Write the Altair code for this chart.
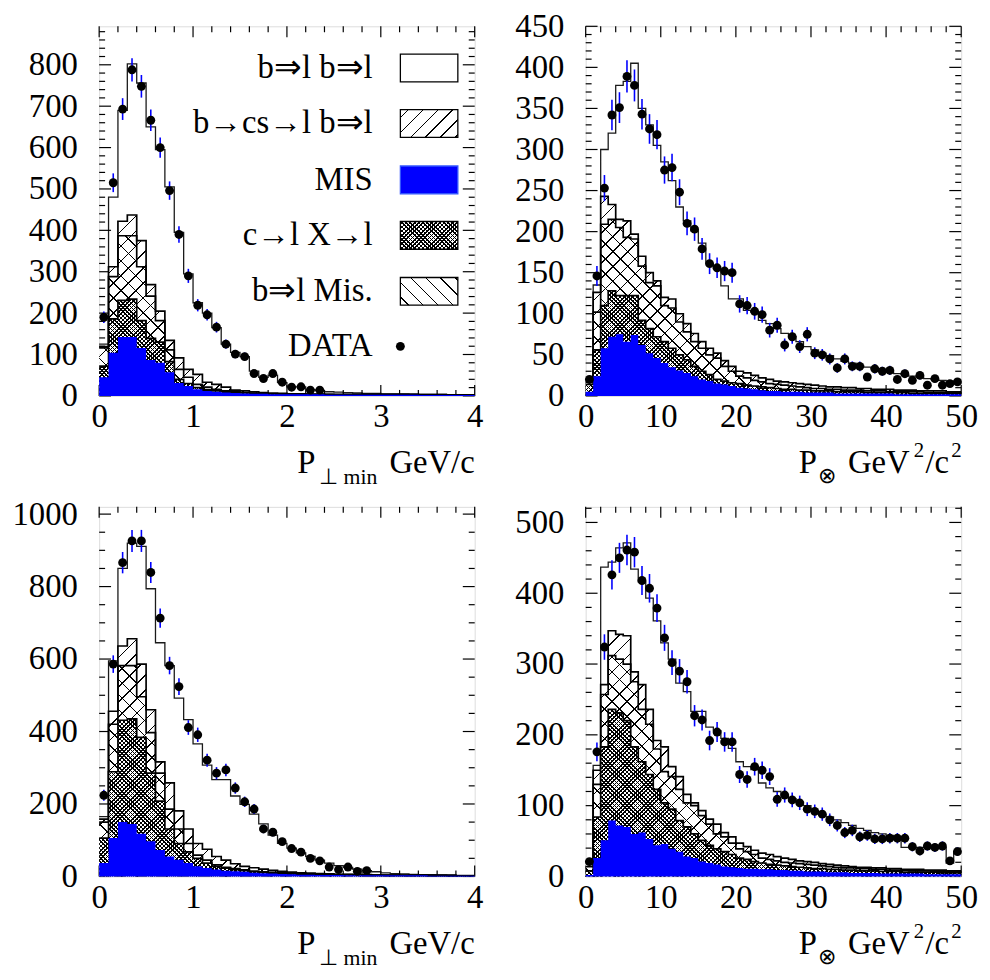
import numpy as np
import pandas as pd
import altair as alt

FONT = "Liberation Serif"
BLUE = "#0000ff"
CLEAR = "rgba(0,0,0,0)"

LEGEND_NAMES = ["b\u21d2l b\u21d2l", "b\u2192cs\u2192l b\u21d2l", "MIS",
                "c\u2192l X\u2192l", "b\u21d2l Mis.", "DATA"]

# ---------------- P_perp_min panels: 40 bins, 0..4 GeV/c ----------------
PT_XMAX = 4
# top edges of every stacked layer
TL_TOTAL = [125, 480, 690, 802, 756, 650, 595, 505, 395, 295, 225, 200, 165, 125, 105, 95, 60, 45, 50, 32,
            22, 22, 15, 13, 10, 9, 8, 7, 6, 6, 5, 5, 5, 4, 4, 4, 4, 3, 3, 3]
TL_BCS = [119, 312, 422, 437, 375, 269, 205, 134, 92, 64, 52, 33, 28, 21, 14, 12, 10, 8, 7, 6,
          5, 5, 4, 4, 4, 3, 3, 3, 3, 3, 3, 3, 3, 3, 2, 2, 2, 2, 2, 2]
TL_BMIS = [116, 288, 387, 387, 312, 241, 182, 111, 64, 45, 28, 21, 16, 12, 10, 8, 7, 6, 5, 5,
           4, 4, 4, 4, 3, 3, 3, 3, 3, 3, 3, 3, 3, 3, 2, 2, 2, 2, 2, 2]
TL_CX = [72, 186, 231, 234, 182, 139, 130, 83, 40, 30, 20, 15, 12, 10, 8, 7, 6, 5, 5, 4,
         4, 4, 4, 4, 3, 3, 3, 3, 3, 3, 3, 3, 3, 3, 2, 2, 2, 2, 2, 2]
TL_MIS = [45, 104, 142, 142, 116, 87, 80, 57, 31, 24, 16, 12, 10, 8, 7, 6, 5, 5, 4, 4,
          4, 4, 4, 4, 3, 3, 3, 3, 3, 3, 3, 3, 3, 3, 2, 2, 2, 2, 2, 2]
TL_DATA = [190, 515, 693, 788, 748, 666, 600, 496, 390, 290, 219, 196, 166, 125, 101, 95, 54, 42, 54, 33,
           21, 22, 14, 14]

BL_TOTAL = [165, 595, 850, 920, 911, 794, 645, 582, 492, 433, 366, 307, 267, 267, 222, 199, 172, 145, 114, 91,
            78, 65, 55, 45, 37, 30, 25, 20, 16, 13, 10, 8, 7, 6, 5, 5, 4, 4, 3, 3]
BL_BCS = [158, 456, 636, 656, 586, 460, 316, 258, 181, 131, 91, 75, 55, 45, 35, 28, 24, 20, 17, 14,
          12, 10, 9, 8, 7, 6, 6, 5, 5, 4, 4, 4, 3, 3, 3, 3, 3, 3, 2, 2]
BL_BMIS = [150, 420, 582, 582, 496, 397, 285, 186, 131, 91, 59, 45, 32, 25, 22, 18, 15, 13, 11, 10,
           9, 8, 7, 6, 6, 5, 5, 4, 4, 4, 3, 3, 3, 3, 3, 3, 3, 2, 2, 2]
BL_CX = [106, 289, 431, 435, 384, 285, 208, 131, 91, 68, 50, 37, 28, 23, 19, 16, 13, 11, 9, 8,
         7, 6, 6, 5, 5, 4, 4, 4, 3, 3, 3, 3, 3, 3, 3, 2, 2, 2, 2, 2]
BL_MIS = [37, 106, 150, 145, 118, 97, 73, 55, 46, 37, 28, 23, 19, 16, 14, 13, 10, 9, 8, 7,
          6, 5, 5, 4, 4, 4, 3, 3, 3, 3, 3, 3, 3, 3, 3, 2, 2, 2, 2, 2]
BL_DATA = [224, 586, 866, 926, 926, 839, 713, 582, 524, 411, 391, 321, 285, 294, 244, 206, 186, 131, 122, 96,
           77, 67, 50, 43, 26, 19, 26, 14, 16]

# ---------------- P_otimes panels: 50 bins, 0..50 GeV^2/c^2 ----------------
PO_XMAX = 50
TR_TOTAL = [20, 135, 300, 320, 378, 383, 405, 350, 330, 305, 285, 262, 230, 213, 201, 186, 161, 155, 134, 118,
            118, 104, 102, 92, 88, 82, 76, 72, 66, 60, 56, 52, 49, 45, 42, 40, 37, 35, 33, 31,
            29, 27, 26, 24, 23, 21, 20, 19, 18, 17]
TR_BCS = [20, 126, 243, 233, 215, 213, 197, 170, 150, 140, 120, 118, 100, 88, 76, 66, 58, 52, 43, 36,
          30, 28, 25, 22, 20, 18, 17, 16, 15, 14, 13, 12, 11, 11, 10, 10, 9, 9, 8, 8,
          8, 7, 7, 7, 6, 6, 6, 6, 5, 5]
TR_BMIS = [17, 102, 209, 215, 205, 193, 191, 158, 138, 134, 110, 107, 90, 78, 66, 58, 50, 46, 36, 30,
           24, 22, 19, 17, 15, 14, 13, 12, 11, 10, 9, 9, 8, 8, 7, 7, 7, 6, 6, 6,
           5, 5, 5, 5, 5, 4, 4, 4, 4, 4]
TR_CX = [14, 56, 110, 128, 122, 122, 122, 92, 82, 72, 66, 58, 50, 44, 36, 30, 26, 20, 18, 16,
         15, 13, 12, 11, 10, 9, 8, 8, 7, 7, 6, 6, 6, 5, 5, 5, 5, 4, 4, 4,
         4, 4, 4, 3, 3, 3, 3, 3, 3, 3]
TR_MIS = [5, 24, 58, 72, 75, 66, 74, 62, 52, 46, 40, 35, 31, 28, 24, 20, 18, 15, 14, 12,
          10, 9, 8, 7, 6, 6, 5, 5, 5, 4, 4, 4, 4, 3, 3, 3, 3, 3, 3, 3,
          3, 2, 2, 2, 2, 2, 2, 2, 2, 2]
TR_DATA = [20, 146, 253, 342, 351, 389, 378, 343, 325, 318, 275, 278, 248, 210, 203, 179, 161, 156, 152, 150,
           112, 110, 103, 99, 80, 86, 62, 72, 60, 75, 52, 50, 45, 34, 45, 36, 36, 23, 33, 30,
           31, 20, 27, 19, 25, 13, 21, 13, 15, 17]

BR_TOTAL = [21, 157, 437, 444, 464, 471, 434, 416, 393, 361, 330, 307, 273, 261, 233, 233, 211, 206, 195, 181,
            162, 155, 151, 132, 125, 120, 115, 110, 105, 100, 93, 88, 84, 80, 76, 72, 68, 65, 62, 60,
            58, 56, 41, 41, 41, 41, 41, 41, 19, 35]
BR_BCS = [18, 150, 271, 347, 342, 340, 289, 271, 236, 192, 183, 155, 141, 116, 104, 93, 81, 74, 62, 56,
          47, 42, 37, 33, 31, 28, 26, 24, 22, 21, 20, 18, 17, 16, 15, 14, 13, 13, 12, 12,
          11, 11, 10, 10, 10, 9, 9, 9, 8, 8]
BR_BMIS = [14, 130, 257, 312, 307, 300, 275, 236, 215, 180, 148, 141, 123, 104, 100, 86, 74, 60, 56, 47,
           39, 35, 31, 26, 24, 22, 20, 19, 18, 17, 16, 15, 14, 13, 12, 12, 11, 11, 10, 10,
           9, 9, 9, 8, 8, 8, 7, 7, 7, 7]
BR_CX = [8, 84, 183, 236, 231, 220, 183, 162, 144, 123, 104, 95, 79, 70, 60, 51, 44, 39, 35, 31,
         26, 24, 21, 19, 17, 16, 15, 14, 13, 12, 11, 11, 10, 10, 9, 9, 8, 8, 8, 7,
         7, 7, 6, 6, 6, 6, 6, 5, 5, 5]
BR_MIS = [2, 26, 51, 79, 72, 70, 60, 62, 53, 44, 46, 39, 35, 28, 26, 21, 19, 17, 14, 13,
          12, 11, 11, 10, 10, 9, 9, 8, 8, 7, 7, 7, 6, 6, 6, 5, 5, 5, 5, 4,
          4, 4, 4, 4, 4, 3, 3, 3, 3, 3]
BR_DATA = [21, 176, 324, 426, 450, 461, 458, 418, 407, 379, 337, 302, 290, 275, 227, 221, 192, 204, 190, 190,
           144, 137, 155, 150, 141, 109, 115, 108, 104, 95, 92, 88, 80, 72, 62, 65, 56, 58, 53, 53,
           54, 54, 54, 42, 36, 43, 41, 43, 22, 35]

PW, PH = 379, 373
ONE = pd.DataFrame({"k": [0]})


def hatch(wpx, hpx, kind, period, lw, bg, fg="black"):
    """Linear-gradient stripes that imitate a ROOT hatch style."""
    wpx = max(float(wpx), 1.0)
    hpx = max(float(hpx), 1.0)
    r = hpx / wpx
    a = (1 + r) / (1 + r * r)
    L = (wpx + hpx) / np.sqrt(2)
    if kind == "/":
        x1, y1, x2, y2 = 0.0, 0.0, a, a * r
    else:
        x1, y1, x2, y2 = 0.0, 1.0, a, 1.0 - a * r
    stops = [alt.GradientStop(color=bg, offset=0.0)]
    k = 0
    while True:
        t0 = (k * period + 0.5 * period) / L
        t1 = t0 + lw / L
        if t1 >= 1.0:
            break
        t0r, t1r = round(t0, 6), round(t1, 6)
        stops += [alt.GradientStop(color=bg, offset=t0r), alt.GradientStop(color=fg, offset=t0r),
                  alt.GradientStop(color=fg, offset=t1r), alt.GradientStop(color=bg, offset=t1r)]
        k += 1
    stops.append(alt.GradientStop(color=bg, offset=1.0))
    return alt.LinearGradient(gradient="linear", stops=stops,
                              x1=round(x1, 6), y1=round(y1, 6), x2=round(x2, 6), y2=round(y2, 6))


def step_df(values, xmax):
    n = len(values)
    bw = xmax / n
    xs = [i * bw for i in range(n + 1)]
    vs = list(values) + [values[-1]]
    return pd.DataFrame({"x": xs, "v": vs})


def make_panel(xmax, ymax, total, bcs, bmis, cx, mis, data,
               x_major, x_minor, y_major, y_minor, kind, legend=False):
    xs = alt.Scale(domain=[0, xmax], nice=False, zero=False)
    ys = alt.Scale(domain=[0, ymax], nice=False, zero=False)
    lab = dict(labelFont=FONT, labelFontSize=33, labelColor="black", ticks=False, tickSize=0,
               domain=False, grid=False, title=None, labelFlush=False, labelOverlap=False, format="d")
    xaxis = alt.Axis(values=x_major, labelPadding=5, **lab)
    yaxis = alt.Axis(values=y_major, labelPadding=22, **lab)

    # the same axis definition on every layer so that the layered axes merge
    def X(f):
        return alt.X(f, type="quantitative", scale=xs, axis=xaxis)

    def Y(f):
        return alt.Y(f, type="quantitative", scale=ys, axis=yaxis)

    layers = []
    # total histogram outline
    layers.append(alt.Chart(step_df(total, xmax)).mark_line(
        interpolate="step-after", color="#1a1a1a", strokeWidth=1.3).encode(x=X("x"), y=Y("v")))

    # inward ticks on all four sides
    def yticks(vals, length):
        df = pd.DataFrame({"t": vals})
        left = alt.Chart(df).mark_rule(color="black", strokeWidth=1.2).encode(
            y=Y("t"), x=alt.value(0), x2=alt.value(length))
        right = alt.Chart(df).mark_rule(color="black", strokeWidth=1.2).encode(
            y=Y("t"), x=alt.value(PW), x2=alt.value(PW - length))
        return [left, right]

    def xticks(vals, length):
        df = pd.DataFrame({"t": vals})
        bot = alt.Chart(df).mark_rule(color="black", strokeWidth=1.2).encode(
            x=X("t"), y=alt.value(PH), y2=alt.value(PH - length))
        top = alt.Chart(df).mark_rule(color="black", strokeWidth=1.2).encode(
            x=X("t"), y=alt.value(0), y2=alt.value(length))
        return [bot, top]

    layers += yticks(y_major, 12) + yticks(y_minor, 6) + xticks(x_major, 11) + xticks(x_minor, 6)

    def hpx(vals):
        return max(vals) / ymax * PH

    def area(vals, fill):
        return alt.Chart(step_df(vals, xmax)).mark_area(
            interpolate="step-after", fill=fill, opacity=1, fillOpacity=1).encode(x=X("x"), y=Y("v"))

    def outline(vals, width=1.7, color="black"):
        return alt.Chart(step_df(vals, xmax)).mark_line(
            interpolate="step-after", color=color, strokeWidth=width).encode(x=X("x"), y=Y("v"))

    # b->cs->l b=>l : "/" hatch
    layers.append(area(bcs, hatch(PW, hpx(bcs), "/", 10.6, 1.1, "white")))
    layers.append(outline(bcs))
    # b=>l Mis. : "\" hatch (transparent -> crosses over the "/" hatch)
    layers.append(area(bmis, hatch(PW, hpx(bmis), "\\", 10.6, 1.1, CLEAR)))
    layers.append(outline(bmis))
    # c->l X->l : dense cross hatch
    layers.append(area(cx, hatch(PW, hpx(cx), "/", 3.0, 1.15, "white")))
    layers.append(area(cx, hatch(PW, hpx(cx), "\\", 3.0, 1.15, CLEAR)))
    layers.append(outline(cx))
    # MIS : solid blue
    layers.append(area(mis, BLUE))

    # data points with error bars
    bw = xmax / len(total)
    ddf = pd.DataFrame({"x": [(i + 0.5) * bw for i in range(len(data))], "v": data})
    ddf["lo"] = ddf["v"] - np.sqrt(ddf["v"])
    ddf["hi"] = ddf["v"] + np.sqrt(ddf["v"])
    layers.append(alt.Chart(ddf).mark_rule(color=BLUE, strokeWidth=1.6).encode(
        x=X("x"), y=Y("lo"), y2=alt.Y2("hi")))
    layers.append(alt.Chart(ddf).mark_circle(size=80, color="black", opacity=1).encode(
        x=X("x"), y=Y("v")))

    # axis title drawn as text pieces (sub/superscripts)
    if kind == "pt":
        parts = [("P", 200, PH + 78, 33, "left"), ("\u22a5 min", 222, PH + 89, 22, "left"),
                 ("GeV/c", PW, PH + 78, 33, "right")]
    else:
        parts = [("P", 215, PH + 78, 33, "left"), ("\u2297", 234, PH + 88, 22, "left"),
                 ("GeV", 327, PH + 78, 33, "right"), ("2", 331, PH + 62, 21, "left"),
                 ("/c", 343, PH + 78, 33, "left"), ("2", 369, PH + 62, 21, "left")]
    for txt, px, py, fs, al in parts:
        layers.append(alt.Chart(ONE).mark_text(
            text=txt, font=FONT, fontSize=fs, align=al, baseline="alphabetic", color="black").encode(
            x=alt.value(px), y=alt.value(py)))

    if legend:
        ycs = [42, 98, 155, 211, 267.5, 323]
        bx0, bx1, bh = 304, 362, 14
        bwpx = bx1 - bx0
        fills = [
            ["white"],
            [hatch(bwpx, 2 * bh, "/", 10.6, 1.1, "white")],
            [BLUE],
            [hatch(bwpx, 2 * bh, "/", 3.0, 1.15, "white"), hatch(bwpx, 2 * bh, "\\", 3.0, 1.15, CLEAR)],
            [hatch(bwpx, 2 * bh, "\\", 10.6, 1.1, "white")],
        ]
        for i, name in enumerate(LEGEND_NAMES):
            yc = ycs[i]
            layers.append(alt.Chart(ONE).mark_text(
                text=name, font=FONT, fontSize=33, align="right", baseline="middle", color="black").encode(
                x=alt.value(276), y=alt.value(yc)))
            if i < 5:
                flist = fills[i]
                for j, f in enumerate(flist):
                    last = j == len(flist) - 1
                    stroke = "#3355ff" if i == 2 else "black"
                    layers.append(alt.Chart(ONE).mark_rect(
                        fill=f, stroke=stroke if last else CLEAR, strokeWidth=1.3 if last else 0).encode(
                        x=alt.value(bx0), x2=alt.value(bx1), y=alt.value(yc - bh), y2=alt.value(yc + bh)))
            else:
                layers.append(alt.Chart(ONE).mark_circle(size=80, color="black", opacity=1).encode(
                    x=alt.value(bx0), y=alt.value(yc)))

    return alt.layer(*layers).properties(width=PW, height=PH)


def ticks(lo, hi, step, major_step):
    vals = np.round(np.arange(lo, hi + 1e-9, step), 6)
    maj = [float(v) for v in vals if abs(v / major_step - round(v / major_step)) < 1e-6]
    mnr = [float(v) for v in vals if abs(v / major_step - round(v / major_step)) >= 1e-6]
    return maj, mnr


ptx_maj, ptx_min = ticks(0, 4, 0.2, 1)
pox_maj, pox_min = ticks(0, 50, 2, 10)

tly_maj, tly_min = ticks(0, 880, 20, 100)
try_maj, try_min = ticks(0, 450, 10, 50)
bly_maj, bly_min = ticks(0, 1000, 50, 200)
bry_maj, bry_min = ticks(0, 520, 20, 100)

tl = make_panel(PT_XMAX, 893, TL_TOTAL, TL_BCS, TL_BMIS, TL_CX, TL_MIS, TL_DATA,
                ptx_maj, ptx_min, tly_maj, tly_min, "pt", legend=True)
tr = make_panel(PO_XMAX, 450, TR_TOTAL, TR_BCS, TR_BMIS, TR_CX, TR_MIS, TR_DATA,
                pox_maj, pox_min, try_maj, try_min, "po")
bl = make_panel(PT_XMAX, 1020, BL_TOTAL, BL_BCS, BL_BMIS, BL_CX, BL_MIS, BL_DATA,
                ptx_maj, ptx_min, bly_maj, bly_min, "pt")
br = make_panel(PO_XMAX, 522, BR_TOTAL, BR_BCS, BR_BMIS, BR_CX, BR_MIS, BR_DATA,
                pox_maj, pox_min, bry_maj, bry_min, "po")

chart = alt.concat(tl, tr, bl, br, columns=2, spacing={"row": 112, "column": 112}, bounds="flush").properties(
    padding={"left": 3, "top": -3, "right": 4, "bottom": 2}
).configure_view(stroke="black", strokeWidth=1.5).configure(background="white")

chart.save("out.html", embed_options={"renderer": "svg", "actions": False})
